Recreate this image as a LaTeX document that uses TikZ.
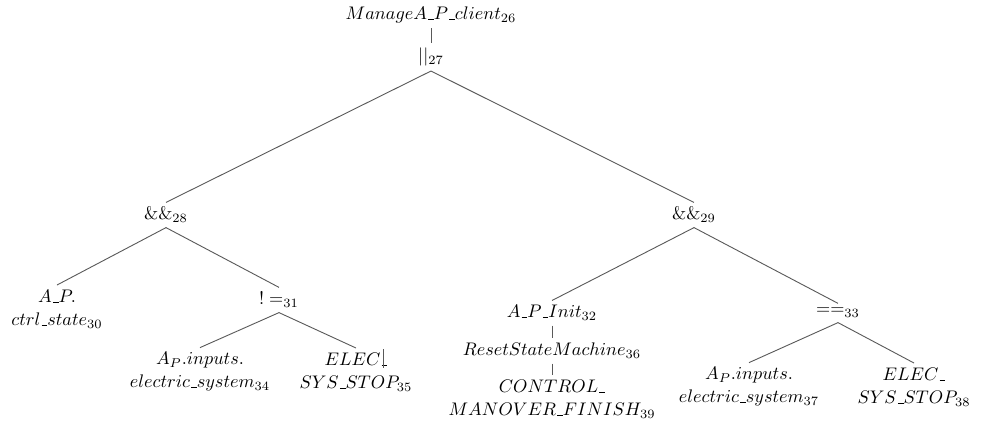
\documentclass[tikz,border=0pt]{standalone}
\newcommand{\usc}{\mbox{\kern.06em\vbox{\hrule width.3em}}}
\begin{document}
\begin{tikzpicture}[x=0.549pt,y=-0.549pt,
  tn/.style={inner sep=2.5pt, align=center, font=\fontsize{10.45}{12.6}\selectfont, text=black},
  edge/.style={draw=black!65, line width=0.5pt}]
\useasboundingbox (0,0) rectangle (984,428);
\node[tn] (n26) at (431,15) {$ManageA\usc P\usc client_{26}$};
\node[tn] (n27) at (431,57) {$||_{27}$};
\node[tn] (n28) at (166,215) {$\&\&_{28}$};
\node[tn] (n29) at (694,215) {$\&\&_{29}$};
\node[tn] (n30) at (57,309) {$A\usc P.$\\$ctrl\usc state_{30}$};
\node[tn] (n31) at (279,300) {$!=_{31}$};
\node[tn] (n34) at (200,372) {$A_P.inputs.$\\$electric\usc system_{34}$};
\node[tn] (n35) at (356,372) {$ELEC\usc$\\$SYS\usc STOP_{35}$};
\node[tn] (n32) at (552,313) {$A\usc P\usc Init_{32}$};
\node[tn] (n36) at (552,351) {$ResetStateMachine_{36}$};
\node[tn] (n39) at (552,399) {$CONTROL\usc$\\$MANOVER\usc FINISH_{39}$};
\node[tn] (n33) at (838,313) {$==_{33}$};
\node[tn] (n37) at (749,387) {$A_P.inputs.$\\$electric\usc system_{37}$};
\node[tn] (n38) at (914,387) {$ELEC\usc$\\$SYS\usc STOP_{38}$};
\coordinate (bar1) at (383,349);
\coordinate (bar2) at (383,368);
\draw[edge] (n26.south) -- (n27.north);
\draw[edge] (n27.south) -- (n28.north);
\draw[edge] (n27.south) -- (n29.north);
\draw[edge] (n28.south) -- (n30.north);
\draw[edge] (n28.south) -- (n31.north);
\draw[edge] (n31.south) -- (n34.north);
\draw[edge] (n31.south) -- (n35.north);
\draw[edge] (n29.south) -- (n32.north);
\draw[edge] (n29.south) -- (n33.north);
\draw[edge] (n32.south) -- (n36.north);
\draw[edge] (n36.south) -- (n39.north);
\draw[edge] (n33.south) -- (n37.north);
\draw[edge] (n33.south) -- (n38.north);
\draw[edge] (bar1) -- (bar2);
\end{tikzpicture}
\end{document}
